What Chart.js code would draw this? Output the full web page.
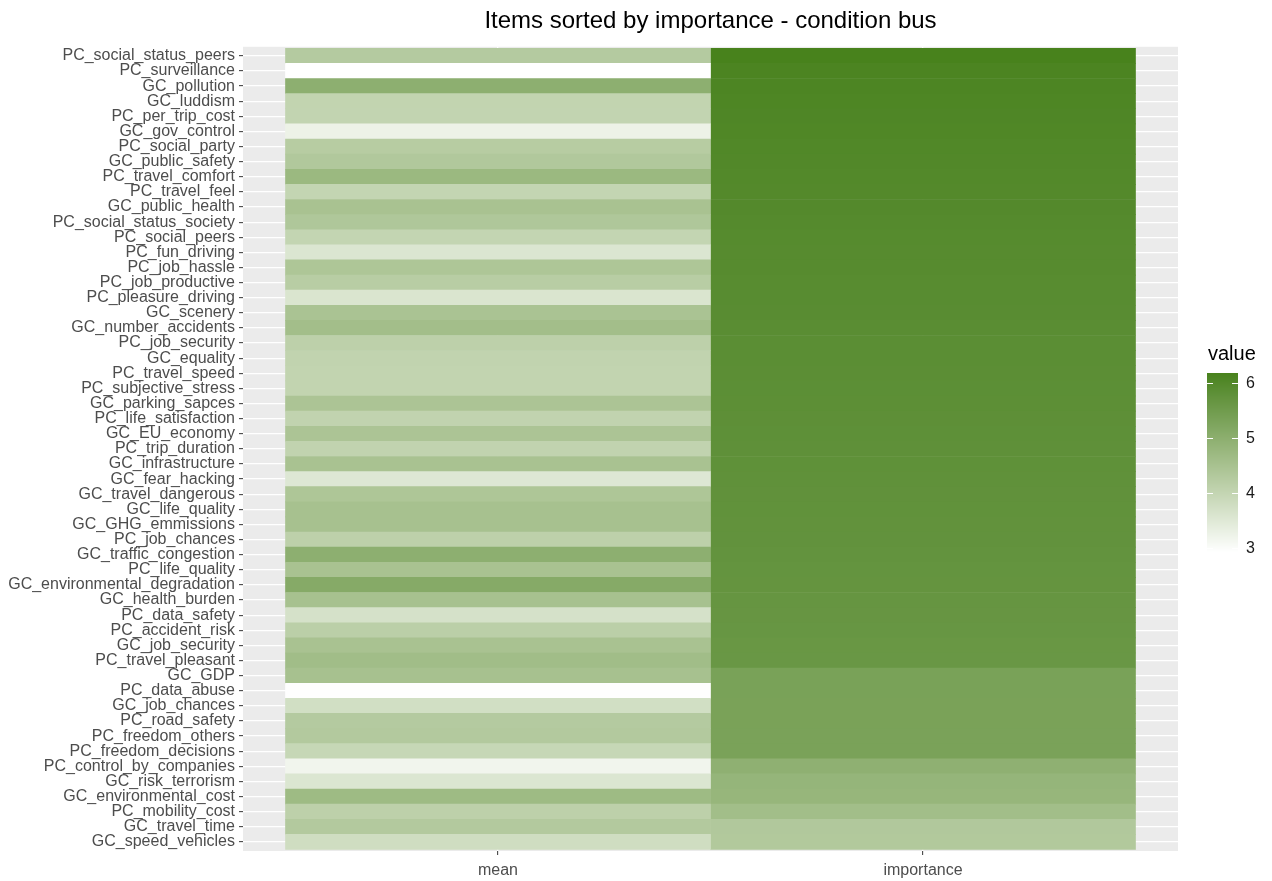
<!DOCTYPE html>
<html>
<head>
<meta charset="utf-8">
<title>Items sorted by importance - condition bus</title>
<script src="https://cdn.jsdelivr.net/npm/chart.js@4.4.1/dist/chart.umd.min.js"></script>
<style>
  html, body { margin: 0; padding: 0; background: #fff; }
</style>
</head>
<body>
<canvas id="heat" width="1272" height="881"></canvas>
<script>
  // Items, top to bottom (sorted by importance)
  const items = [
    "PC_social_status_peers", "PC_surveillance", "GC_pollution", "GC_luddism",
    "PC_per_trip_cost", "GC_gov_control", "PC_social_party", "GC_public_safety",
    "PC_travel_comfort", "PC_travel_feel", "GC_public_health", "PC_social_status_society",
    "PC_social_peers", "PC_fun_driving", "PC_job_hassle", "PC_job_productive",
    "PC_pleasure_driving", "GC_scenery", "GC_number_accidents", "PC_job_security",
    "GC_equality", "PC_travel_speed", "PC_subjective_stress", "GC_parking_sapces",
    "PC_life_satisfaction", "GC_EU_economy", "PC_trip_duration", "GC_infrastructure",
    "GC_fear_hacking", "GC_travel_dangerous", "GC_life_quality", "GC_GHG_emmissions",
    "PC_job_chances", "GC_traffic_congestion", "PC_life_quality", "GC_environmental_degradation",
    "GC_health_burden", "PC_data_safety", "PC_accident_risk", "GC_job_security",
    "PC_travel_pleasant", "GC_GDP", "PC_data_abuse", "GC_job_chances",
    "PC_road_safety", "PC_freedom_others", "PC_freedom_decisions", "PC_control_by_companies",
    "GC_risk_terrorism", "GC_environmental_cost", "PC_mobility_cost", "GC_travel_time",
    "GC_speed_vehicles"
  ];

  const columns = ["mean", "importance"];

  const meanValues = [
    4.27, 2.93, 4.98, 4.03, 4.02, 3.26, 4.23, 4.33, 4.73, 4.00,
    4.48, 4.36, 4.00, 3.57, 4.39, 4.21, 3.60, 4.46, 4.59, 4.12,
    4.05, 4.03, 4.03, 4.43, 4.05, 4.43, 4.05, 4.48, 3.53, 4.39,
    4.52, 4.52, 4.12, 4.98, 4.48, 5.11, 4.51, 3.68, 4.15, 4.48,
    4.62, 4.51, 2.95, 3.75, 4.27, 4.30, 3.95, 3.18, 3.57, 4.68,
    4.12, 4.30, 3.79
  ];

  const importanceValues = [
    6.18, 6.12, 6.10, 6.08, 6.06, 6.05, 6.03, 6.02, 6.00, 5.99,
    5.98, 5.96, 5.95, 5.94, 5.93, 5.92, 5.91, 5.90, 5.88, 5.87,
    5.86, 5.85, 5.84, 5.83, 5.82, 5.81, 5.80, 5.79, 5.78, 5.77,
    5.76, 5.75, 5.74, 5.72, 5.71, 5.70, 5.68, 5.66, 5.65, 5.63,
    5.62, 5.34, 5.34, 5.33, 5.33, 5.32, 5.32, 4.95, 4.83, 4.81,
    4.60, 4.33, 4.32
  ];

  const legendTicks = [3, 4, 5, 6];

  const FONT = "'Liberation Sans', Arial, sans-serif";
  const LOW = "#FFFFFF";
  const HIGH = "#48821C";

  const allValues = meanValues.concat(importanceValues);
  const vmin = Math.min(...allValues);
  const vmax = Math.max(...allValues);

  // colour gradient interpolated in CIE Lab, white -> green
  const WP = [0.95047, 1, 1.08883];
  function toLin(c) { c /= 255; return c <= 0.04045 ? c / 12.92 : Math.pow((c + 0.055) / 1.055, 2.4); }
  function fromLin(c) {
    c = c <= 0.0031308 ? 12.92 * c : 1.055 * Math.pow(c, 1 / 2.4) - 0.055;
    return Math.round(Math.max(0, Math.min(1, c)) * 255);
  }
  function hexToLab(hex) {
    const n = parseInt(hex.slice(1), 16);
    const r = toLin((n >> 16) & 255), g = toLin((n >> 8) & 255), b = toLin(n & 255);
    const x = (0.4124564 * r + 0.3575761 * g + 0.1804375 * b) / WP[0];
    const y = (0.2126729 * r + 0.7151522 * g + 0.0721750 * b) / WP[1];
    const z = (0.0193339 * r + 0.1191920 * g + 0.9503041 * b) / WP[2];
    const f = t => t > 216 / 24389 ? Math.cbrt(t) : (24389 / 27 * t + 16) / 116;
    const fx = f(x), fy = f(y), fz = f(z);
    return [116 * fy - 16, 500 * (fx - fy), 200 * (fy - fz)];
  }
  function labToRgb(L, a, b) {
    const fy = (L + 16) / 116, fx = fy + a / 500, fz = fy - b / 200;
    const inv = t => t * t * t > 216 / 24389 ? t * t * t : (116 * t - 16) / (24389 / 27);
    const x = inv(fx) * WP[0], y = inv(fy) * WP[1], z = inv(fz) * WP[2];
    const r = 3.2404542 * x - 1.5371385 * y - 0.4985314 * z;
    const g = -0.9692660 * x + 1.8760108 * y + 0.0415560 * z;
    const bl = 0.0556434 * x - 0.2040259 * y + 1.0572252 * z;
    return `rgb(${fromLin(r)},${fromLin(g)},${fromLin(bl)})`;
  }
  const labLow = hexToLab(LOW), labHigh = hexToLab(HIGH);
  function fillFor(v) {
    const t = Math.max(0, Math.min(1, (v - vmin) / (vmax - vmin)));
    return labToRgb(
      labLow[0] + (labHigh[0] - labLow[0]) * t,
      labLow[1] + (labHigh[1] - labLow[1]) * t,
      labLow[2] + (labHigh[2] - labLow[2]) * t
    );
  }

  // one floating bar per cell: column i spans i+0.5 .. i+1.5
  const datasets = columns.map((col, ci) => {
    const vals = ci === 0 ? meanValues : importanceValues;
    return {
      label: col,
      data: items.map((_, ri) => ({ y: ri + 1, x: [ci + 0.5, ci + 1.5] })),
      backgroundColor: vals.map(fillFor),
      borderWidth: 0,
      barPercentage: 1,
      categoryPercentage: 1,
      grouped: false
    };
  });

  // grey panel behind the tiles
  const panelBg = {
    id: "panelBg",
    beforeDraw(chart) {
      const { ctx, chartArea: a } = chart;
      ctx.save();
      ctx.fillStyle = "#EBEBEB";
      ctx.fillRect(a.left, a.top, a.right - a.left, a.bottom - a.top);
      ctx.restore();
    }
  };

  // continuous colour bar legend
  const colorbar = {
    id: "colorbar",
    afterDraw(chart) {
      const { ctx, chartArea: a } = chart;
      const barW = 31, barH = 179;
      const x0 = a.right + 29;
      const y0 = Math.round((a.top + a.bottom) / 2 - barH / 2 + 14);
      const yOf = v => y0 + (vmax - v) / (vmax - vmin) * barH;
      ctx.save();
      for (let i = 0; i < barH; i++) {
        ctx.fillStyle = fillFor(vmax - (i + 0.5) / barH * (vmax - vmin));
        ctx.fillRect(x0, y0 + i, barW, 1);
      }
      ctx.strokeStyle = "#FFFFFF";
      ctx.lineWidth = 1;
      ctx.fillStyle = "#1A1A1A";
      ctx.font = `16px ${FONT}`;
      ctx.textAlign = "left";
      ctx.textBaseline = "middle";
      legendTicks.forEach(t => {
        const y = Math.round(yOf(t)) + 0.5;
        ctx.beginPath();
        ctx.moveTo(x0, y); ctx.lineTo(x0 + 6, y);
        ctx.moveTo(x0 + barW - 6, y); ctx.lineTo(x0 + barW, y);
        ctx.stroke();
        ctx.fillText(String(t), x0 + barW + 8, y);
      });
      ctx.font = `20px ${FONT}`;
      ctx.fillStyle = "#000000";
      ctx.fillText("value", x0 + 1, y0 - 19);
      ctx.restore();
    }
  };

  const tickFont = { family: FONT, size: 16 };

  new Chart(document.getElementById("heat"), {
    type: "bar",
    data: { datasets },
    plugins: [panelBg, colorbar],
    options: {
      indexAxis: "y",
      responsive: false,
      animation: false,
      layout: { padding: { left: 0, right: 94, top: 0, bottom: 0 } },
      plugins: {
        legend: { display: false },
        tooltip: { enabled: false },
        title: {
          display: true,
          text: "Items sorted by importance - condition bus",
          color: "#000000",
          font: { family: FONT, size: 24, weight: "normal", lineHeight: 1.2 },
          padding: { top: 7, bottom: 11 },
          fullSize: false
        }
      },
      scales: {
        x: {
          type: "linear",
          min: 0.4,
          max: 2.6,
          offset: false,
          afterBuildTicks: s => { s.ticks = columns.map((_, i) => ({ value: i + 1 })); },
          afterFit: s => { s.height = 30; },
          ticks: {
            callback: v => columns[Math.round(v) - 1],
            color: "#4D4D4D",
            font: tickFont,
            padding: 6,
            autoSkip: false,
            maxRotation: 0
          },
          grid: { offset: false, color: "#FFFFFF", lineWidth: 1.3, tickColor: "#333333", tickLength: 4, tickWidth: 1 },
          border: { display: false }
        },
        y: {
          type: "linear",
          reverse: true,
          min: 0.4,
          max: items.length + 0.6,
          offset: false,
          afterBuildTicks: s => { s.ticks = items.map((_, i) => ({ value: i + 1 })); },
          afterFit: s => { s.width = 243; },
          ticks: {
            callback: v => items[Math.round(v) - 1],
            color: "#4D4D4D",
            font: tickFont,
            padding: 4,
            autoSkip: false
          },
          grid: { offset: false, color: "#FFFFFF", lineWidth: 1.3, tickColor: "#333333", tickLength: 4, tickWidth: 1 },
          border: { display: false }
        }
      }
    }
  });
</script>
</body>
</html>
